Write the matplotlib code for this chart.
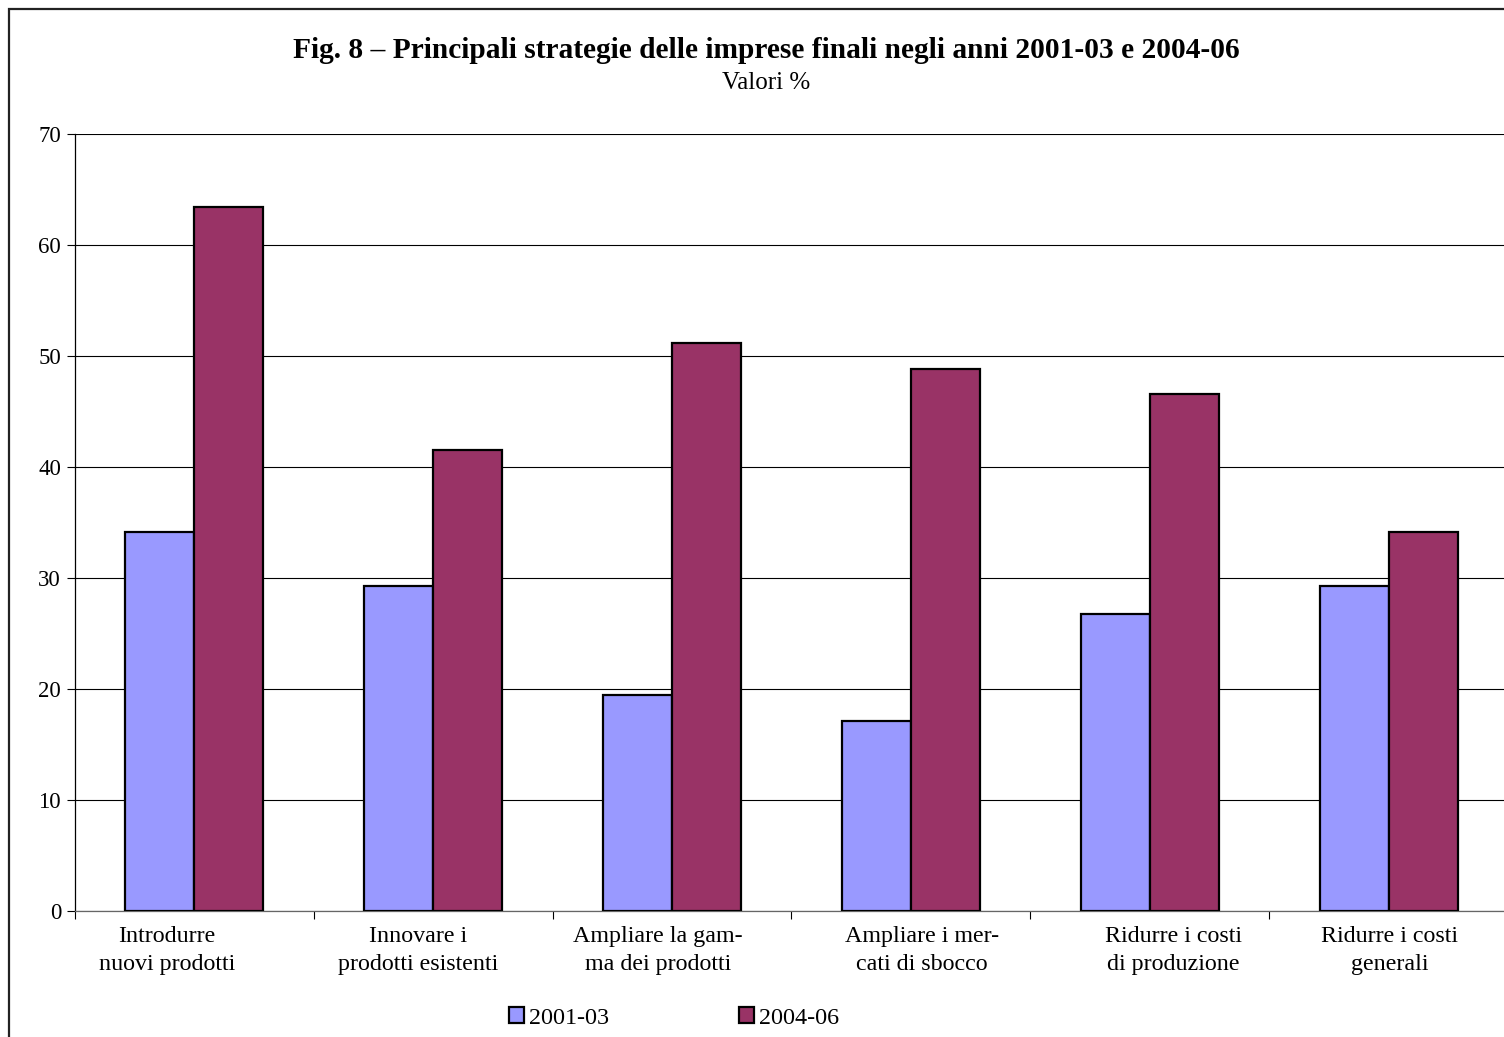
import matplotlib
matplotlib.use("Agg")
import matplotlib.pyplot as plt
import matplotlib.patches as mpatches
import matplotlib.transforms as mtransforms
import numpy as np

plt.rcParams["font.family"] = ["Liberation Serif", "DejaVu Serif"]

categories = [
    "Introdurre\nnuovi prodotti",
    "Innovare i\nprodotti esistenti",
    "Ampliare la gam-\nma dei prodotti",
    "Ampliare i mer-\ncati di sbocco",
    "Ridurre i costi\ndi produzione",
    "Ridurre i costi\ngenerali",
]
val_2001_03 = [34.1, 29.3, 19.5, 17.1, 26.8, 29.3]
val_2004_06 = [63.4, 41.5, 51.2, 48.8, 46.6, 34.1]
series_labels = ["2001-03", "2004-06"]
colors = ["#9999FF", "#993366"]
# horizontal nudge of each category label (points)
label_nudge = [-20, -11, -10, 8, 17, 1]

W, H = 1504, 1037
fig = plt.figure(figsize=(W / 100, H / 100), dpi=100)

# outer chart frame (extends past the right/bottom edge)
frame = mpatches.Rectangle(
    (9 / W, -0.1), 1.2, 1 - 9 / H + 0.1,
    transform=fig.transFigure, fill=False, edgecolor="#222222", linewidth=1.6,
)
fig.patches.append(frame)

ax = fig.add_axes([75 / W, 1 - 911 / H, 1433 / W, 777 / H])

x = np.arange(len(categories))
bw = 0.289
ax.bar(x - bw / 2, val_2001_03, bw, color=colors[0], edgecolor="black",
       linewidth=1.6, label=series_labels[0], zorder=3)
ax.bar(x + bw / 2, val_2004_06, bw, color=colors[1], edgecolor="black",
       linewidth=1.6, label=series_labels[1], zorder=3)

ax.set_xlim(-0.5, len(categories) - 0.5)
ax.set_ylim(0, 70)
ax.set_yticks(range(0, 71, 10))
ax.yaxis.grid(True, color="black", linewidth=0.8, zorder=0)
ax.set_axisbelow(True)

ax.set_xticks(x)
ax.set_xticklabels(categories, fontsize=17.3, linespacing=1.4)
ax.set_xticks(np.arange(-0.5, len(categories)), minor=True)
ax.tick_params(axis="x", which="major", length=0, pad=11)
ax.tick_params(axis="x", which="minor", length=6, width=0.8, direction="out")
ax.tick_params(axis="y", length=6, width=0.8, labelsize=16.5, pad=4)

# shift the category labels sideways (after tick_params, which resets transforms)
for tick, dx in zip(ax.xaxis.get_major_ticks(), label_nudge):
    lbl = tick.label1
    lbl.set_transform(lbl.get_transform()
                      + mtransforms.ScaledTranslation(dx / 72, 0, fig.dpi_scale_trans))

for side in ["top", "right"]:
    ax.spines[side].set_visible(False)
ax.spines["left"].set_linewidth(0.9)
ax.spines["bottom"].set_linewidth(0.9)
ax.spines["bottom"].set_color("#666666")

cx = 766 / W
fig.text(cx, 1 - 51 / H, "Fig. 8 – Principali strategie delle imprese finali negli anni 2001-03 e 2004-06",
         ha="center", va="center", fontsize=21.2, fontweight="bold")
fig.text(cx, 1 - 83 / H, "Valori %", ha="center", va="center", fontsize=18)

handles = [mpatches.Patch(facecolor=c, edgecolor="black", linewidth=1.6) for c in colors]
fig.legend(handles, series_labels, loc="center", bbox_to_anchor=(674 / W, 1 - 1018 / H),
           ncol=2, frameon=False, fontsize=17.4, handlelength=0.62, handleheight=0.62,
           handletextpad=0.2, columnspacing=5.4)

fig.savefig("out.png", dpi=100)
